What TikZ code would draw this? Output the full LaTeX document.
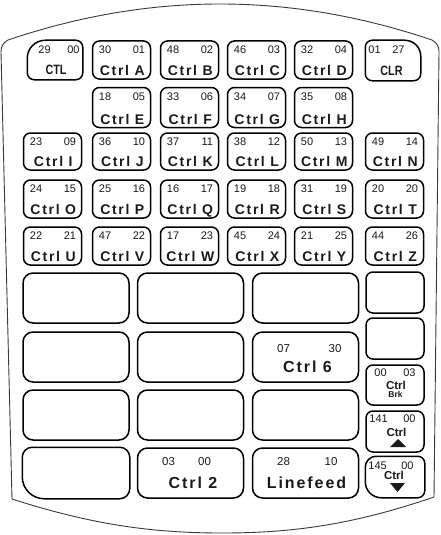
\documentclass[tikz,border=0pt]{standalone}
\usepackage{fontspec}
\setmainfont{Liberation Sans}
\newfontfamily\keyfont[LetterSpace=12]{Liberation Sans}
\usepackage{tikz}
\usetikzlibrary{
  positioning,
  calc,
}
\definecolor{shellLine}{HTML}{3A3A3A}
\definecolor{keyText}{HTML}{1A1A1A}
\tikzset{
  keycap/.style={
    rectangle, draw, rounded corners=7pt, line width=1.5pt,
    minimum width=58pt, minimum height=38pt, inner sep=0pt,
  },
  widekey/.style={
    keycap, rounded corners=10pt, minimum width=106pt, minimum height=50pt,
  },
  keyline/.style={line width=1.5pt},
  codes/.style={font=\fontsize{11}{11}\selectfont, text=keyText, inner sep=0pt},
  bigcodes/.style={codes, font=\fontsize{11.5}{11.5}\selectfont, anchor=north},
  legend/.style={
    font=\keyfont\bfseries\fontsize{14}{14}\selectfont, text=keyText,
    inner sep=0pt, anchor=base,
  },
  biglegend/.style={legend, font=\keyfont\bfseries\fontsize{16}{16}\selectfont},
  plainlegend/.style={legend, font=\bfseries\fontsize{11.5}{11.5}\selectfont},
  shell/.style={draw=shellLine, line width=0.9pt},
}

\begin{document}
\begin{tikzpicture}[x=1pt, y=-1pt]
\useasboundingbox (0,0) rectangle (440,535);
\draw[shell] (12,499) -- (1,52) .. controls (1,46) and (3,43) .. (8,40)
  .. controls (150,-8) and (290,-8) .. (432,40)
  .. controls (437,43) and (439,46) .. (439,52) -- (434,497)
  .. controls (355,524) and (295,533) .. (222,533)
  .. controls (150,533) and (90,524) .. (12,499) -- cycle;

% letter keys
\foreach \k/\cx/\cy/\h/\nl/\nr in {
  A/121.5/60/38/30/01, B/189.5/60/38/48/02, C/256.5/60/38/46/03, D/323.5/60/38/32/04,
  E/121.5/107.5/40/18/05, F/189.5/107.5/40/33/06, G/256.5/107.5/40/34/07, H/323.5/107.5/40/35/08,
  I/52.5/151.5/37/23/09, J/121.5/151.5/37/36/10, K/189.5/151.5/37/37/11,
  L/256.5/151.5/37/38/12, M/323.5/151.5/37/50/13, N/394.5/151.5/37/49/14,
  O/52.5/199/38/24/15, P/121.5/199/38/25/16, Q/189.5/199/38/16/17,
  R/256.5/199/38/19/18, S/323.5/199/38/31/19, T/394.5/199/38/20/20,
  U/52.5/246/38/22/21, V/121.5/246/38/47/22, W/189.5/246/38/17/23,
  X/256.5/246/38/45/24, Y/323.5/246/38/21/25, Z/394.5/246/38/44/26}
{
  \node[keycap, minimum height=\h pt] (key\k) at (\cx,\cy) {};
  \node[codes, anchor=north west] at ([shift={(7pt,-5.5pt)}]key\k.north west) {\nl};
  \node[codes, anchor=north east] at ([shift={(-6pt,-5.5pt)}]key\k.north east) {\nr};
  \node[legend] at ([shift={(0.8pt,4pt)}]key\k.south) {Ctrl \k};
}

% CTL and CLR
\node[keycap, draw=none, minimum width=54pt] (keyCTL) at (55,60) {};
\draw[keyline] (keyCTL.south) [rounded corners=7pt] -- (keyCTL.south west)
  [rounded corners=18pt] -- (keyCTL.north west)
  [rounded corners=7pt] -- (keyCTL.north east) -- (keyCTL.south east) -- cycle;
\node[codes, anchor=north west] at ([shift={(11pt,-5.5pt)}]keyCTL.north west) {29};
\node[codes, anchor=north east] at ([shift={(-3pt,-5.5pt)}]keyCTL.north east) {00};
\node[legend, font=\bfseries\fontsize{13.5}{13.5}\selectfont]
  at ([shift={(1pt,5pt)}]keyCTL.south) {\scalebox{0.8}[1]{CTL}};

\node[keycap, draw=none, minimum width=54pt, minimum height=39pt] (keyCLR) at (393,60.5) {};
\draw[keyline] (keyCLR.south) [rounded corners=7pt] -- (keyCLR.south west)
  -- (keyCLR.north west) [rounded corners=16pt] -- (keyCLR.north east)
  [rounded corners=7pt] -- (keyCLR.south east) -- cycle;
\node[codes, anchor=north west] at ([shift={(3pt,-5.5pt)}]keyCLR.north west) {01};
\node[codes, anchor=north east] at ([shift={(-16pt,-5.5pt)}]keyCLR.north east) {27};
\node[legend, font=\bfseries\fontsize{13.5}{13.5}\selectfont]
  at ([shift={(-1.5pt,5.5pt)}]keyCLR.south) {\scalebox{0.8}[1]{CLR}};

% wide keys
\foreach \n/\cx/\cy in {blankA/76/298, blankB/190.5/298, blankC/305.5/298,
  blankD/76/357, blankE/190.5/357, blankF/76/415, blankG/190.5/415, blankH/305.5/415}
  \node[widekey] (\n) at (\cx,\cy) {};

\node[widekey] (keySix) at (305.5,357) {};
\node[bigcodes] at ([shift={(-22pt,-13pt)}]keySix.north) {07};
\node[bigcodes] at ([shift={(29.5pt,-13pt)}]keySix.north) {30};
\node[biglegend] at ([shift={(2pt,10pt)}]keySix.south) {Ctrl 6};

\node[widekey, draw=none] (blankM) at (76,473) {};
\draw[keyline] (blankM.south) [rounded corners=10pt] -- (blankM.south east)
  -- (blankM.north east) -- (blankM.north west)
  [rounded corners=22pt] -- (blankM.south west) [rounded corners=10pt] -- cycle;

\node[widekey] (keyTwo) at (190.5,473) {};
\node[bigcodes] at ([shift={(-22pt,-10pt)}]keyTwo.north) {03};
\node[bigcodes] at ([shift={(14pt,-10pt)}]keyTwo.north) {00};
\node[biglegend] at ([shift={(2.5pt,10pt)}]keyTwo.south) {Ctrl 2};

\node[widekey] (keyLF) at (305.5,473) {};
\node[bigcodes] at ([shift={(-22pt,-10pt)}]keyLF.north) {28};
\node[bigcodes] at ([shift={(25.5pt,-10pt)}]keyLF.north) {10};
\node[biglegend] at ([shift={(1pt,10pt)}]keyLF.south) {Linefeed};

% side column
\node[keycap, minimum height=41pt] (sideA) at (395,292.5) {};
\node[keycap, minimum height=41pt] (sideB) at (395,338.5) {};

\node[keycap, minimum height=40pt] (keyBrk) at (395,385) {};
\node[codes, anchor=north west] at ([shift={(9pt,-4pt)}]keyBrk.north west) {00};
\node[codes, anchor=north east] at ([shift={(-9pt,-4pt)}]keyBrk.north east) {03};
\node[plainlegend] at ([shift={(1pt,-25pt)}]keyBrk.north) {Ctrl};
\node[plainlegend, font=\bfseries\fontsize{8.5}{8.5}\selectfont]
  at ([shift={(0.5pt,-33pt)}]keyBrk.north) {Brk};

\node[keycap, minimum height=41pt] (keyUp) at (395,431.5) {};
\node[codes, anchor=north west] at ([shift={(4pt,-4pt)}]keyUp.north west) {141};
\node[codes, anchor=north east] at ([shift={(-9pt,-4pt)}]keyUp.north east) {00};
\node[plainlegend] at ([shift={(1.5pt,-26pt)}]keyUp.north) {Ctrl};
\fill[keyText] ([shift={(-5pt,-15.5pt)}]keyUp.center) -- ++(16pt,0) -- ++(-8pt,8pt) -- cycle;

\node[keycap, draw=none, minimum height=40pt] (keyDown) at (395,477) {};
\draw[keyline] (keyDown.south) [rounded corners=7pt] -- (keyDown.south east)
  -- (keyDown.north east) [rounded corners=11pt] -- (keyDown.north west)
  [rounded corners=16pt] -- (keyDown.south west) [rounded corners=7pt] -- cycle;
\node[codes, anchor=north west] at ([shift={(3pt,-5pt)}]keyDown.north west) {145};
\node[codes, anchor=north east] at ([shift={(-11pt,-5pt)}]keyDown.north east) {00};
\node[plainlegend] at ([shift={(-1pt,-23pt)}]keyDown.north) {Ctrl};
\fill[keyText] ([shift={(-5pt,-6pt)}]keyDown.center) -- ++(15pt,0) -- ++(-7.5pt,-9pt) -- cycle;
\end{tikzpicture}
\end{document}
